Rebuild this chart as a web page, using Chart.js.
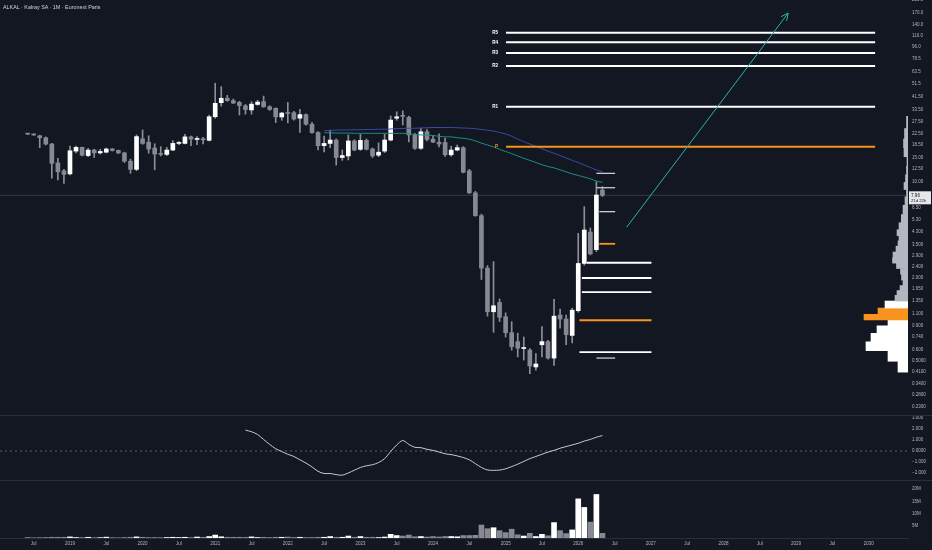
<!DOCTYPE html>
<html><head><meta charset="utf-8">
<script src="https://cdn.jsdelivr.net/npm/chart.js@4.4.1/dist/chart.umd.min.js"></script>
<style>
html,body{margin:0;padding:0;background:#131722;width:932px;height:550px;overflow:hidden;}
#wrap{position:relative;width:932px;height:550px;background:#131722;}
.pane{position:absolute;left:0;}
#title{position:absolute;left:3px;top:4px;font:5.4px 'Liberation Sans',Arial,sans-serif;color:#d1d4dc;white-space:nowrap;}
.sep{position:absolute;left:0;width:932px;height:1px;background:#2a2e39;}
</style></head><body>
<div id="wrap">
<div class="pane" style="top:0;width:932px;height:415px"><canvas id="cPrice"></canvas></div>
<div class="pane" style="top:0;width:908px;height:415px;pointer-events:none"><canvas id="cProfile"></canvas></div>
<div class="pane" style="top:416px;width:932px;height:64px"><canvas id="cOsc"></canvas></div>
<div class="pane" style="top:481px;width:932px;height:69px"><canvas id="cVol"></canvas></div>
<div class="sep" style="top:415px"></div>
<div class="sep" style="top:480px"></div>
<div id="title">ALKAL · Kalray SA · 1M · Euronext Paris</div>
</div>
<script>
// ---------------- DATA ----------------
const categories = [
 '2018-06','2018-07','2018-08','2018-09','2018-10','2018-11','2018-12',
 '2019-01','2019-02','2019-03','2019-04','2019-05','2019-06','2019-07','2019-08','2019-09','2019-10','2019-11','2019-12',
 '2020-01','2020-02','2020-03','2020-04','2020-05','2020-06','2020-07','2020-08','2020-09','2020-10','2020-11','2020-12',
 '2021-01','2021-02','2021-03','2021-04','2021-05','2021-06','2021-07','2021-08','2021-09','2021-10','2021-11','2021-12',
 '2022-01','2022-02','2022-03','2022-04','2022-05','2022-06','2022-07','2022-08','2022-09','2022-10','2022-11','2022-12',
 '2023-01','2023-02','2023-03','2023-04','2023-05','2023-06','2023-07','2023-08','2023-09','2023-10','2023-11','2023-12',
 '2024-01','2024-02','2024-03','2024-04','2024-05','2024-06','2024-07','2024-08','2024-09','2024-10','2024-11','2024-12',
 '2025-01','2025-02','2025-03','2025-04','2025-05','2025-06','2025-07','2025-08','2025-09','2025-10','2025-11','2025-12',
 '2026-01','2026-02','2026-03','2026-04','2026-05'
];
const opens = [
 22.4,22.2,21.6,20.9,18.8,13.7,12.0,
 11.4,16.7,17.8,15.5,17.0,16.2,16.4,17.3,16.9,16.2,14.1,12.3,
 20.5,19.4,17.6,15.9,15.8,17.0,19.0,19.0,21.2,20.3,20.4,20.0,
 29.7,37.6,40.5,38.9,37.8,35.7,33.3,36.5,38.3,35.1,34.2,29.6,
 31.6,31.8,29.0,30.8,26.2,22.8,18.3,19.0,20.1,15.0,15.4,19.8,
 17.2,20.0,17.3,15.6,16.7,20.1,29.0,30.2,29.4,21.9,17.5,23.1,
 20.4,19.4,19.3,15.7,17.0,17.7,12.0,8.3,5.66,2.35,1.13,1.32,
 1.04,0.796,0.685,0.61,0.594,0.448,0.65,0.685,0.52,1.07,1.0,0.76,
 1.15,2.54,4.3,3.2,8.7
];
const highs = [
 22.5,22.3,21.8,21.2,19.0,14.8,12.3,
 18.2,18.2,17.9,17.5,17.2,17.2,17.6,17.5,17.0,16.4,14.6,21.9,
 23.8,21.6,18.9,18.0,17.8,19.9,19.6,22.1,21.5,21.3,21.0,30.5,
 52.0,49.2,42.5,40.0,38.5,36.5,38.3,39.2,42.0,35.8,34.5,32.0,
 37.8,32.5,33.6,31.2,27.0,23.2,21.5,23.8,20.5,17.0,21.9,20.2,
 22.1,20.5,17.6,19.2,22.2,30.1,32.3,32.8,30.0,22.5,24.6,24.0,
 21.5,22.3,20.8,18.1,18.5,18.0,12.3,8.5,5.8,2.45,2.62,1.40,
 1.11,0.957,0.79,0.74,0.61,0.56,0.88,0.70,1.39,1.18,1.07,1.20,
 4.21,6.58,4.6,10.0,9.2
];
const lows = [
 22.0,21.7,17.7,18.5,10.6,10.3,9.7,
 11.2,16.2,15.4,15.2,15.0,15.9,16.2,16.7,16.0,13.8,11.5,12.0,
 18.7,16.1,12.2,15.4,15.5,16.8,18.6,18.8,18.3,18.6,18.8,19.8,
 29.0,35.5,38.5,37.0,30.6,31.0,31.0,36.0,34.8,33.0,26.9,28.0,
 26.8,28.0,22.8,25.8,22.5,17.0,16.5,17.7,13.2,14.3,14.4,16.8,
 16.9,17.0,15.0,15.2,16.3,19.8,28.0,25.9,19.5,17.2,17.2,19.8,
 19.2,17.9,15.3,15.3,16.8,11.6,8.2,5.6,1.94,1.05,0.80,0.96,
 0.74,0.594,0.53,0.503,0.40,0.425,0.53,0.51,0.46,0.86,0.65,0.67,
 1.12,2.47,2.93,3.1,7.8
];
const closes = [
 22.2,21.9,20.9,18.8,13.6,11.8,11.3,
 16.8,17.8,15.6,17.0,16.2,16.6,17.3,16.9,16.2,14.1,12.3,21.3,
 19.0,17.3,15.9,15.8,17.0,19.0,19.1,21.2,20.4,20.5,20.2,29.7,
 37.2,40.5,38.9,37.4,35.8,33.5,36.7,38.0,35.1,33.6,29.7,31.6,
 31.4,28.6,30.8,26.2,22.8,18.3,19.0,20.1,15.0,15.5,19.8,17.0,
 20.0,17.2,15.4,16.4,20.1,28.1,29.7,29.9,21.9,17.5,23.1,20.3,
 19.4,18.8,15.7,17.0,17.7,11.7,8.3,5.66,2.35,1.13,1.25,1.03,
 0.796,0.63,0.614,0.62,0.455,0.471,0.685,0.52,1.05,1.0,0.77,1.16,
 2.54,4.45,2.98,8.0,7.96
];
const volumesM = [
 0.2,0.1,0.15,0.2,0.3,0.3,0.3,
 0.45,0.2,0.2,0.3,0.15,0.15,0.35,0.15,0.1,0.2,0.3,0.45,
 0.3,0.2,0.2,0.15,0.2,0.3,0.2,0.3,0.2,0.4,0.3,0.6,
 1.2,0.5,0.3,0.3,0.3,0.25,0.45,0.2,0.3,0.2,0.3,0.3,
 0.4,0.2,0.3,0.2,0.2,0.3,0.3,0.6,0.3,0.3,0.8,0.3,
 0.6,0.3,0.3,0.2,0.4,1.5,1.0,0.8,1.2,0.5,0.6,0.4,
 0.6,0.4,0.6,0.6,0.5,1.0,1.0,1.1,5.3,3.8,4.2,3.0,
 2.2,3.6,1.3,0.8,1.9,0.6,1.5,0.9,6.3,3.0,1.8,3.3,
 16.0,12.5,6.5,17.8,1.9
];
// moving averages (start 2022-07)
const maStart = '2022-07';
const maSlow = [23.5,23.6,23.7,23.8,23.8,23.9,23.9,24.0,24.0,24.1,24.1,24.2,24.3,24.4,24.5,24.5,24.6,24.7,24.8,24.8,24.8,24.8,24.7,24.6,24.5,24.3,24.0,23.7,23.4,22.8,22.3,21.4,20.4,19.6,18.8,18.1,17.4,16.7,16.1,15.5,14.9,14.3,13.8,13.2,12.7,12.2,11.8];
const maFast = [22.7,22.7,22.6,22.6,22.6,22.5,22.5,22.5,22.5,22.5,22.5,22.5,22.5,22.5,22.3,22.1,21.9,21.8,21.7,21.4,21.2,21.2,20.9,20.7,20.4,19.8,19.1,18.5,17.9,17.2,16.6,16.0,15.4,14.8,14.3,13.8,13.3,12.9,12.6,12.2,11.8,11.4,11.1,10.8,10.5,10.1,9.9];
// oscillator (start 2021-06)
const oscStart = '2021-06';
const oscValues = [1.90,1.75,1.50,1.05,0.60,0.20,-0.05,-0.30,-0.50,-0.80,-1.10,-1.45,-1.85,-2.05,-2.05,-2.15,-2.20,-2.00,-1.75,-1.50,-1.35,-1.25,-1.05,-0.70,-0.05,0.55,0.95,0.60,0.33,0.30,0.15,0.05,-0.10,-0.25,-0.33,-0.45,-0.60,-0.80,-1.15,-1.50,-1.73,-1.76,-1.74,-1.62,-1.42,-1.20,-0.95,-0.70,-0.50,-0.30,-0.10,0.05,0.25,0.40,0.55,0.70,0.90,1.05,1.25,1.40];
// axis ticks
const priceTickValues = [210,170,140,116,96,78.5,63.5,51.5,41.5,33.5,27.5,22.5,18.5,15,12.5,10,6.5,5.3,4.3,3.5,2.9,2.4,2.0,1.65,1.35,1.1,0.9,0.74,0.6,0.5,0.41,0.34,0.28,0.23];
const priceTickLabels = ['210.0','170.0','140.0','116.0','96.0','78.5','63.5','51.5','41.50','33.50','27.50','22.50','18.50','15.00','12.50','10.00','6.50','5.30','4.300','3.500','2.900','2.400','2.000','1.650','1.350','1.100','0.900','0.740','0.600','0.5000','0.4100','0.3400','0.2800','0.2300'];
const oscTickValues = [3,2,1,0,-1,-2];
const oscTickLabels = ['3.000','2.000','1.000','0.0000','\u22121.000','\u22122.000'];
const volTickValues = [5,10,15,20];
const volTickLabels = ['5M','10M','15M','20M'];
const xTickDates = ['2018-07','2019-01','2019-07','2020-01','2020-07','2021-01','2021-07','2022-01','2022-07','2023-01','2023-07','2024-01','2024-07','2025-01','2025-07','2026-01','2026-07','2027-01','2027-07','2028-01','2028-07','2029-01','2029-07','2030-01'];
const viewFrom = '2018-01-14', viewTo = '2030-07-16';
// pivot levels
const pivotNames = ['P','R1','R2','R3','R4','R5'];
const pivotLevels = [18.0,35.2,69.6,86.5,103.5,121.6];
const pivotSpan = ['2025-01-03','2030-02-03'];
// support / resistance marks
const supportLevels = [11.5,9.04,6.05,3.53,2.57,1.99,1.57,0.98,0.575,0.52];
const supportFrom = ['2026-04-01','2026-04-01','2026-04-16','2026-04-16','2026-02-13','2026-01-19','2026-01-19','2026-01-07','2026-01-07','2026-04-01'];
const supportTo = ['2026-07-04','2026-07-04','2026-07-04','2026-07-04','2027-01-04','2027-01-04','2027-01-04','2027-01-04','2027-01-04','2026-07-04'];
const supportKind = ['minor','minor','minor','key','major','major','major','key','major','minor'];
// projection arrow
const arrowDates = ['2026-09-01','2028-11-22'];
const arrowPrices = [4.66,169];
// volume profile (price rows, relative volume)
const profilePrices = [0.45,0.54,0.64,0.73,0.848,0.94,1.035,1.13,1.28,1.43,1.55,1.68,1.83,2.02,2.23,2.44,2.67,2.92,3.24,3.55,3.86,4.23,4.72,5.35,6.22,7.3,8.27,9.3,10.5,12,14,16.5,19,22,27];
const profileVolumes = [10,20,42,37,31,20,44,30,23,13,11,8,5,6.5,7.5,11.5,15.5,15,12,10,9,11,9,6.7,5,3,1.5,4,2.5,1.5,1,4,4.5,3.5,1.5];
const profilePOC = [1.035,1.13];
const countdown = '21d 22h';

// ---------------- HELPERS ----------------
function mIdx(s){ const p = s.split('-').map(Number); return (p[0]-2019)*12 + (p[1]-1) + (p[2] ? (p[2]-1)/30 : 0); }
const X_MIN = mIdx(viewFrom), X_MAX = mIdx(viewTo);
const P_MIN = 0.2002, P_MAX = 210.3;
const OSC_MIN = -2.64, OSC_MAX = 3.18;
const VOL_MAX = 23.3;
const mArr = categories.map(mIdx);
const isUp = closes.map((c,i)=> c >= opens[i]);
const UP = '#ffffff', DOWN = '#868993', WICK = '#8c8f98', ORANGE = '#f7931e';
const FAM = "'Liberation Sans', Arial, sans-serif";
const AX = '#b2b5be';
const fontAx = {family: FAM, size: 4.5};
function fixY(s){ s.width = 24; s.paddingTop = 0; s.paddingBottom = 0; }
function setTicks(vals){ return function(s){ s.ticks = vals.map(v=>({value:v})); }; }
function yAxisCommon(labels){
  return { position:'right', grid:{display:false, drawTicks:false}, border:{display:false},
    ticks:{ color:AX, font:fontAx, padding:4, autoSkip:false, callback:(v,i)=>labels[i] }, afterFit: fixY };
}
const xHidden = { type:'linear', min:X_MIN, max:X_MAX, offset:false, display:false };
const baseOpts = { responsive:true, maintainAspectRatio:false, animation:false, events:[],
  layout:{padding:0}, plugins:{legend:{display:false}, tooltip:{enabled:false}} };

// ---------------- PRICE CHART ----------------
const priceDatasets = [
  { label:'bodies', data: mArr.map((m,i)=>({x:m, y:[opens[i], closes[i]]})),
    backgroundColor: isUp.map(u=>u?UP:DOWN), barThickness:4, grouped:false, minBarLength:1, borderWidth:0, order:3 },
  { label:'wicks', data: mArr.map((m,i)=>({x:m, y:[lows[i], highs[i]]})),
    backgroundColor: WICK, barThickness:1, grouped:false, minBarLength:1, borderWidth:0, order:4 },
  { type:'line', label:'last', data:[{x:X_MIN,y:closes[closes.length-1]},{x:X_MAX,y:closes[closes.length-1]}],
    borderColor:'#363a45', borderWidth:1, pointRadius:0, order:6 },
  { type:'line', label:'maSlow', data: maSlow.map((v,i)=>({x:mIdx(maStart)+i, y:v})),
    borderColor:'#3b4aa8', borderWidth:1, pointRadius:0, tension:0.3, order:2 },
  { type:'line', label:'maFast', data: maFast.map((v,i)=>({x:mIdx(maStart)+i, y:v})),
    borderColor:'#1d8f84', borderWidth:1, pointRadius:0, tension:0.3, order:2 },
  { type:'line', label:'arrow', data: arrowDates.map((d,i)=>({x:mIdx(d), y:arrowPrices[i]})),
    borderColor:'#2bb3b1', borderWidth:1, pointRadius:0, order:0 }
];
pivotLevels.forEach((lv,i)=>{
  priceDatasets.push({ type:'line', label:pivotNames[i], data:[{x:mIdx(pivotSpan[0]),y:lv},{x:mIdx(pivotSpan[1]),y:lv}],
    borderColor: pivotNames[i]==='P' ? ORANGE : '#ffffff', borderWidth:2, pointRadius:0, order:1 });
});
supportLevels.forEach((lv,i)=>{
  const k = supportKind[i];
  priceDatasets.push({ type:'line', label:'s'+i, data:[{x:mIdx(supportFrom[i]),y:lv},{x:mIdx(supportTo[i]),y:lv}],
    borderColor: k==='key' ? ORANGE : (k==='major' ? '#ffffff' : '#c8cad0'), borderWidth: k==='minor' ? 1.3 : 1.8, pointRadius:0, order:1 });
});

const priceOverlay = {
  id:'priceOverlay',
  afterDatasetsDraw(chart){
    const ctx = chart.ctx, xs = chart.scales.x, ys = chart.scales.y;
    const x1 = xs.getPixelForValue(mIdx(arrowDates[0])), y1 = ys.getPixelForValue(arrowPrices[0]);
    const x2 = xs.getPixelForValue(mIdx(arrowDates[1])), y2 = ys.getPixelForValue(arrowPrices[1]);
    const ang = Math.atan2(y2-y1, x2-x1);
    ctx.save();
    ctx.strokeStyle = '#2bb3b1'; ctx.lineWidth = 1;
    ctx.beginPath();
    ctx.moveTo(x2 - 8*Math.cos(ang-0.45), y2 - 8*Math.sin(ang-0.45));
    ctx.lineTo(x2, y2);
    ctx.lineTo(x2 - 8*Math.cos(ang+0.45), y2 - 8*Math.sin(ang+0.45));
    ctx.stroke();
    ctx.font = 'bold 4.6px ' + FAM; ctx.textAlign = 'right'; ctx.textBaseline = 'middle';
    const lx = xs.getPixelForValue(mIdx(pivotSpan[0])) - 8;
    pivotNames.forEach((n,i)=>{
      ctx.fillStyle = n==='P' ? ORANGE : '#ffffff';
      ctx.fillText(n, lx, ys.getPixelForValue(pivotLevels[i]));
    });
    ctx.restore();
  },
  afterDraw(chart){
    const ctx = chart.ctx, ys = chart.scales.y;
    const last = closes[closes.length-1];
    const py = ys.getPixelForValue(last);
    const left = chart.chartArea.right + 1;
    ctx.save();
    ctx.fillStyle = '#e6e7eb';
    ctx.fillRect(left, py-4, 22, 13);
    ctx.fillStyle = '#131722'; ctx.textAlign='left'; ctx.textBaseline='middle';
    ctx.font = '4.6px ' + FAM;
    ctx.fillText(last.toFixed(2), left+2, py);
    ctx.font = '4.2px ' + FAM;
    ctx.fillText(countdown, left+2, py+5.5);
    ctx.restore();
  }
};

new Chart(document.getElementById('cPrice'), {
  type:'bar',
  data:{ datasets: priceDatasets },
  options: Object.assign({}, baseOpts, {
    scales:{
      x: xHidden,
      y: Object.assign({ type:'logarithmic', min:P_MIN, max:P_MAX, bounds:'data',
            afterBuildTicks: setTicks(priceTickValues) }, yAxisCommon(priceTickLabels))
    }
  }),
  plugins:[priceOverlay]
});

// ---------------- VOLUME PROFILE ----------------
new Chart(document.getElementById('cProfile'), {
  type:'bar',
  data:{ datasets:[{ data: profilePrices.map((p,i)=>({x:profileVolumes[i], y:p})),
    backgroundColor: profilePrices.map(p => profilePOC.includes(p) ? ORANGE : (p > 1.4 ? '#b4b7bf' : '#ffffff')),
    barThickness:'flex', categoryPercentage:1, barPercentage:1, borderWidth:0 }] },
  options: Object.assign({}, baseOpts, {
    indexAxis:'y',
    scales:{
      x:{ type:'linear', reverse:true, min:0, max:908, display:false },
      y:{ type:'logarithmic', min:P_MIN, max:P_MAX, offset:false, display:false }
    }
  })
});

// ---------------- OSCILLATOR ----------------
new Chart(document.getElementById('cOsc'), {
  type:'line',
  data:{ datasets:[
    { data: oscValues.map((v,i)=>({x:mIdx(oscStart)+i, y:v})), borderColor:'#c9cbd1', borderWidth:1, pointRadius:0, tension:0.3 },
    { data:[{x:X_MIN,y:0},{x:X_MAX,y:0}], borderColor:'#5d606b', borderWidth:1, borderDash:[2,3], pointRadius:0 }
  ]},
  options: Object.assign({}, baseOpts, {
    scales:{
      x: xHidden,
      y: Object.assign({ type:'linear', min:OSC_MIN, max:OSC_MAX, afterBuildTicks: setTicks(oscTickValues) }, yAxisCommon(oscTickLabels))
    }
  })
});

// ---------------- VOLUME ----------------
const xTickVals = xTickDates.map(mIdx);
const xTickLabels = xTickDates.map(d => d.endsWith('-07') ? 'Jul' : d.slice(0,4));
new Chart(document.getElementById('cVol'), {
  type:'bar',
  data:{ datasets:[{ data: mArr.map((m,i)=>({x:m, y:volumesM[i]})), backgroundColor: isUp.map(u=>u?UP:DOWN),
    barThickness:5, grouped:false, borderWidth:0 }] },
  options: Object.assign({}, baseOpts, {
    scales:{
      x:{ type:'linear', min:X_MIN, max:X_MAX, offset:false, position:'bottom',
          grid:{display:false, drawTicks:false}, border:{display:true, color:'#2a2e39'},
          ticks:{ color:AX, font:fontAx, padding:3, autoSkip:false, maxRotation:0, minRotation:0, callback:(v,i)=>xTickLabels[i] },
          afterBuildTicks: setTicks(xTickVals),
          afterFit(s){ s.height = 12; s.paddingLeft = 0; s.paddingRight = 0; } },
      y: Object.assign({ type:'linear', min:0, max:VOL_MAX, afterBuildTicks: setTicks(volTickValues) }, yAxisCommon(volTickLabels))
    }
  })
});
</script>
</body></html>
